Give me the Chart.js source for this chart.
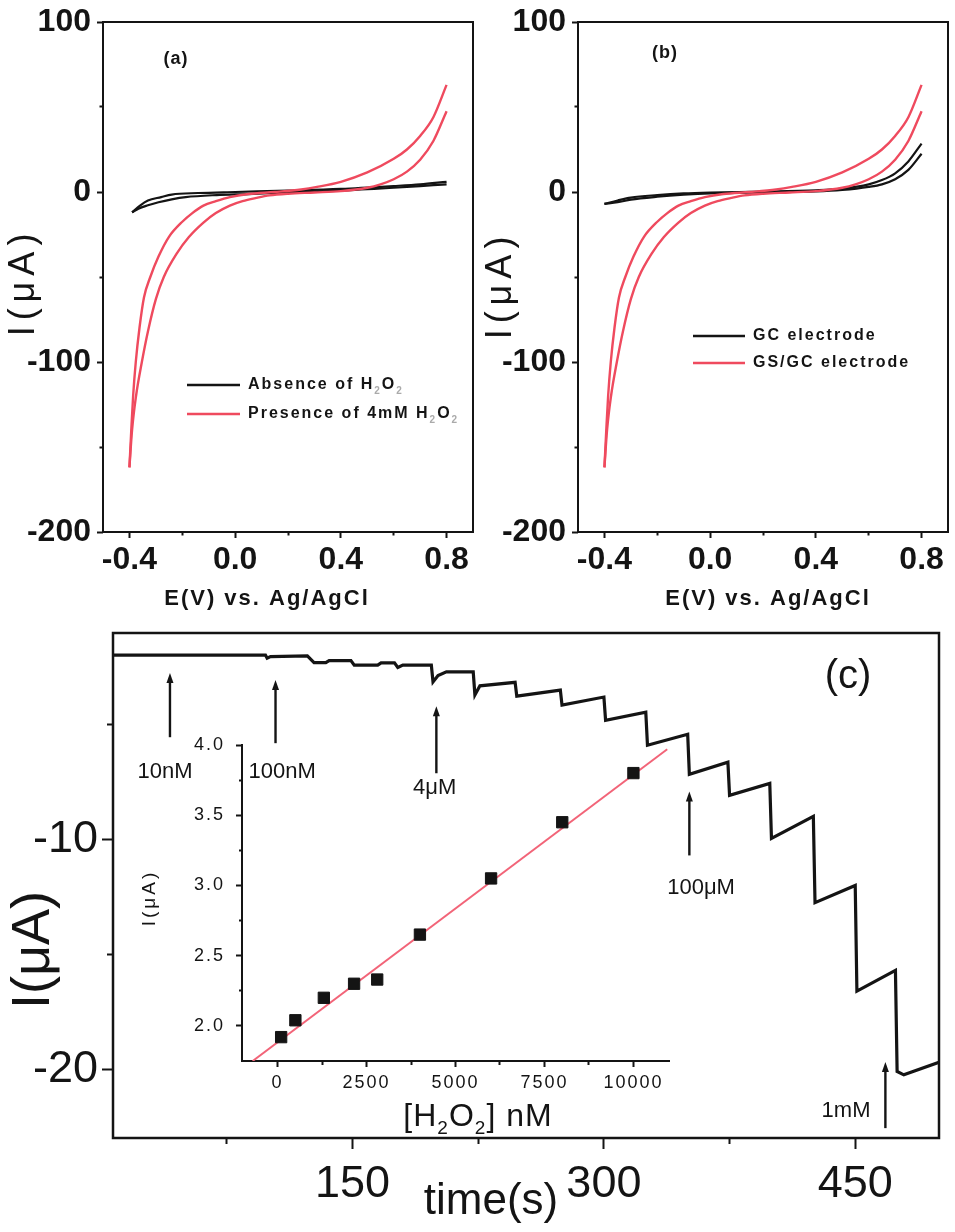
<!DOCTYPE html>
<html>
<head>
<meta charset="utf-8">
<script src="https://cdn.jsdelivr.net/npm/chart.js@4.4.0/dist/chart.umd.min.js"></script>
<style>
body { margin: 0; background: #fff; }
#fig { position: relative; width: 955px; height: 1232px; overflow: hidden; background: #fff; }
canvas { position: absolute; }
</style>
</head>
<body>
<div id="fig">
  <canvas id="cvA" width="480" height="620" style="left:0;top:0"></canvas>
  <canvas id="cvB" width="480" height="620" style="left:475px;top:0"></canvas>
  <canvas id="amp" width="955" height="622" style="left:0;top:610px"></canvas>
  <canvas id="inset" width="570" height="460" style="left:120px;top:700px"></canvas>
</div>
<script>
"use strict";

// ---- (a), (b) cyclic voltammograms ----
var cvTicks = [-0.4, -0.2, 0, 0.2, 0.4, 0.6, 0.8];
var cvTickLabels = ['-0.4', '', '0.0', '', '0.4', '', '0.8'];
var cvCurrentTicks = [-200, -150, -100, -50, 0, 50, 100];
var cvCurrentLabels = ['-200', '', '-100', '', '0', '', '100'];

// red loop (same in a and b)
var redUpperV = [-0.4, -0.393, -0.386, -0.376, -0.362, -0.345, -0.321, -0.29, -0.251, -0.2, -0.162, -0.12, -0.073, -0.02, 0.05, 0.15, 0.25, 0.31, 0.4, 0.5, 0.6, 0.65, 0.7, 0.75, 0.8];
var redUpperI = [-162, -140, -120, -100, -80, -62, -50, -38, -26.5, -17.5, -12.4, -8, -5.4, -3, -1.2, 0, 1.5, 3, 6, 11.5, 19.5, 25, 33, 44, 63];
var redLowerV = [-0.4, -0.39, -0.375, -0.353, -0.33, -0.3, -0.27, -0.22, -0.175, -0.12, -0.073, -0.02, 0.028, 0.08, 0.13, 0.2, 0.3, 0.4, 0.5, 0.55, 0.6, 0.65, 0.7, 0.75, 0.8];
var redLowerI = [-162, -140, -120, -100, -82, -63, -50, -36, -26.5, -18, -12.4, -8, -5.4, -3.5, -2, -1, -0.3, 0.5, 2.5, 4.5, 7.5, 12, 19, 30, 47.5];

// black loop in (a): absence of H2O2
var blackAUpperV = [-0.39, -0.36, -0.33, -0.28, -0.24, -0.14, 0, 0.2, 0.4, 0.6, 0.7, 0.8];
var blackAUpperI = [-12, -8, -5, -3, -1.5, -0.6, 0, 0.8, 1.8, 3.5, 4.5, 6];
var blackALowerV = [-0.39, -0.366, -0.33, -0.29, -0.24, -0.187, -0.07, 0.05, 0.2, 0.4, 0.6, 0.7, 0.8];
var blackALowerI = [-12, -9.8, -7.8, -6, -4.3, -3, -1.8, -1.2, -0.2, 0.8, 2.5, 3.5, 4.5];

// black loop in (b): bare GC electrode
var blackBV = [-0.4, -0.35, -0.3, -0.2, -0.1, 0, 0.2, 0.4, 0.5, 0.6, 0.65, 0.7, 0.75, 0.8];
var blackBUpperI = [-7, -5, -3.3, -1.8, -0.8, -0.3, 0.2, 1, 2, 4.5, 7, 11, 18, 28.5];
var blackBLowerI = [-7, -6, -4.5, -2.8, -1.6, -0.8, -0.2, 0.3, 1.2, 3, 4.5, 7.5, 13, 22.5];

// ---- (c) amperometric response ----
var timeC = [7, 98, 99, 101, 123, 127, 134, 136, 149, 151, 165, 167, 175, 177, 180, 197, 198, 201, 206, 222,
             223, 226, 247, 248, 274, 275, 300, 301, 325, 326, 350, 351, 374, 375, 399, 400, 425, 426, 450, 451,
             474, 475, 479, 500];
var currentC = [-1.96, -1.96, -2.1, -2.03, -2.0, -2.29, -2.29, -2.2, -2.2, -2.4, -2.4, -2.3, -2.3, -2.5, -2.4, -2.4, -3.13, -2.85, -2.69, -2.69,
                -3.7, -3.3, -3.15, -3.75, -3.49, -4.14, -3.79, -4.8, -4.45, -5.89, -5.41, -7.16, -6.63, -8.07, -7.55, -9.95, -8.99, -12.75, -12.0, -16.6,
                -15.7, -20.1, -20.25, -19.7];
var cTimeTicks = [75, 150, 225, 300, 375, 450];
var cTimeLabels = ['', '150', '', '300', '', '450'];
var cCurrentTicks = [-20, -15, -10, -5];
var cCurrentLabels = ['-20', '', '-10', ''];

// ---- inset calibration ----
var concNM = [100, 500, 1300, 2150, 2800, 4000, 6000, 8000, 10000];
var insetCurrent = [1.92, 2.04, 2.2, 2.3, 2.33, 2.65, 3.05, 3.45, 3.8];
var fitX = [-700, 10950];
var fitY = [1.75, 3.97];
var insetXTicks = [0, 1250, 2500, 3750, 5000, 6250, 7500, 8750, 10000];
var insetXLabels = ['0', '', '2500', '', '5000', '', '7500', '', '10000'];
var insetYTicks = [2.0, 2.25, 2.5, 2.75, 3.0, 3.25, 3.5, 3.75, 4.0];
var insetYLabels = ['2.0', '', '2.5', '', '3.0', '', '3.5', '', '4.0'];

var INK = '#141414';
var RED = '#ef4a5e';
var FIT = '#f26478';
var SANS = '"Liberation Sans", Arial, sans-serif';

function pts(xs, ys) {
    return xs.map(function (x, i) { return { x: x, y: ys[i] }; });
}

function drawRich(ctx, t) {
    var parts = typeof t.s === 'string' ? [[t.s, 0]] : t.s;
    var w8 = t.weight || 'normal';
    var big = w8 + ' ' + t.size + 'px ' + SANS;
    var small = w8 + ' ' + Math.round(t.size * 0.6) + 'px ' + SANS;
    ctx.save();
    ctx.letterSpacing = t.spacing || '0px';
    ctx.translate(t.x, t.y);
    if (t.rot) ctx.rotate(t.rot);
    var w = 0;
    parts.forEach(function (p) { ctx.font = p[1] ? small : big; w += ctx.measureText(p[0]).width; });
    var cx = t.align === 'left' ? 0 : -w / 2;
    ctx.textBaseline = 'middle';
    ctx.textAlign = 'left';
    parts.forEach(function (p) {
        ctx.font = p[1] ? small : big;
        ctx.fillStyle = (p[1] && t.subColor) ? t.subColor : (t.color || INK);
        ctx.fillText(p[0], cx, p[1] ? t.size * 0.38 : 0);
        cx += ctx.measureText(p[0]).width;
    });
    ctx.restore();
}

var decor = {
    id: 'decor',
    beforeDraw: function (chart, args, o) {
        chart.ctx.letterSpacing = o.tickSpacing || '0px';
    },
    afterDraw: function (chart, args, o) {
        var ctx = chart.ctx, ca = chart.chartArea;
        ctx.save();
        ctx.letterSpacing = '0px';
        if (o.frame) {
            ctx.lineWidth = o.frame;
            ctx.strokeStyle = INK;
            ctx.strokeRect(ca.left, ca.top, ca.right - ca.left, ca.bottom - ca.top);
        }
        (o.keys || []).forEach(function (k) {
            ctx.beginPath();
            ctx.lineWidth = 2.4;
            ctx.strokeStyle = k.color;
            ctx.moveTo(k.x1, k.y);
            ctx.lineTo(k.x2, k.y);
            ctx.stroke();
            drawRich(ctx, { s: k.s, x: k.x2 + 8, y: k.y, size: 16, weight: 'bold', spacing: '2px', align: 'left', subColor: '#aaa' });
        });
        var xs = chart.scales.x, ys = chart.scales.y;
        (o.notes || []).forEach(function (n) {
            var x = xs.getPixelForValue(n.t);
            var y1 = ys.getPixelForValue(n.top), y2 = ys.getPixelForValue(n.bottom);
            ctx.beginPath();
            ctx.lineWidth = 2.4;
            ctx.strokeStyle = INK;
            ctx.moveTo(x, y1 + 4);
            ctx.lineTo(x, y2);
            ctx.stroke();
            ctx.beginPath();
            ctx.fillStyle = INK;
            ctx.moveTo(x, y1 - 2);
            ctx.lineTo(x - 3.5, y1 + 8);
            ctx.lineTo(x + 3.5, y1 + 8);
            ctx.closePath();
            ctx.fill();
            drawRich(ctx, { s: n.label, x: xs.getPixelForValue(n.lt), y: ys.getPixelForValue(n.lv), size: 22 });
        });
        (o.texts || []).forEach(function (t) { drawRich(ctx, t); });
        ctx.restore();
    }
};

function axis(o) {
    var horiz = o.pos === 'bottom';
    return {
        type: 'linear',
        position: o.pos,
        min: o.min,
        max: o.max,
        afterBuildTicks: function (s) { s.ticks = o.ticks.map(function (v) { return { value: v }; }); },
        afterFit: function (s) {
            if (horiz) s.height = o.size; else s.width = o.size;
            s.paddingLeft = 0; s.paddingRight = 0; s.paddingTop = 0; s.paddingBottom = 0;
        },
        border: { display: !!o.border, width: 2, color: INK },
        grid: {
            drawOnChartArea: false,
            tickLength: o.tl,
            tickWidth: o.tw || 2,
            tickColor: INK,
            tickBorderDash: function (c) {
                if (o.labels[c.index] !== '') return [];
                return horiz ? [o.minor, 99] : [0, o.tl - o.minor, o.minor, 99];
            }
        },
        ticks: {
            autoSkip: false,
            maxRotation: 0,
            padding: o.pad,
            color: INK,
            font: o.font,
            callback: function (v, i) { return o.labels[i]; }
        }
    };
}

function line(data, color, width) {
    return {
        data: data,
        showLine: true,
        borderColor: color,
        backgroundColor: color,
        borderWidth: width,
        pointRadius: 0,
        fill: false,
        cubicInterpolationMode: 'monotone'
    };
}

function cvChart(id, blackUp, blackLow, texts, keys) {
    var tickFont = { family: SANS, size: 32, weight: 'bold' };
    return new Chart(document.getElementById(id), {
        type: 'scatter',
        data: {
            datasets: [
                line(pts(redUpperV, redUpperI), RED, 2.4),
                line(pts(redLowerV, redLowerI), RED, 2.4),
                line(blackUp, INK, 2.2),
                line(blackLow, INK, 2.2)
            ]
        },
        options: {
            responsive: false,
            animation: false,
            devicePixelRatio: 1,
            layout: { padding: { top: 22, right: 7, left: 0, bottom: 0 } },
            scales: {
                x: axis({ pos: 'bottom', min: -0.5, max: 0.9, ticks: cvTicks, labels: cvTickLabels, size: 88, tl: 6, minor: 3.5, pad: 3, font: tickFont }),
                y: axis({ pos: 'left', min: -200, max: 100, ticks: cvCurrentTicks, labels: cvCurrentLabels, size: 103, tl: 6, minor: 3.5, pad: 6, font: tickFont })
            },
            plugins: {
                legend: { display: false },
                tooltip: { enabled: false },
                decor: { frame: 2, texts: texts, keys: keys }
            }
        },
        plugins: [decor]
    });
}

cvChart('cvA', pts(blackAUpperV, blackAUpperI), pts(blackALowerV, blackALowerI), [
    { s: 'I(\u03bcA)', x: 24, y: 282, size: 36, rot: -Math.PI / 2, spacing: '6px' },
    { s: 'E(V) vs. Ag/AgCl', x: 267, y: 599, size: 22, weight: 'bold', spacing: '2px' },
    { s: '(a)', x: 176, y: 59, size: 18, weight: 'bold', spacing: '1px' }
], [
    { x1: 187, x2: 240, y: 385, color: INK, s: [['Absence of H', 0], ['2', 1], ['O', 0], ['2', 1]] },
    { x1: 187, x2: 240, y: 414, color: RED, s: [['Presence of 4mM H', 0], ['2', 1], ['O', 0], ['2', 1]] }
]);

cvChart('cvB', pts(blackBV, blackBUpperI), pts(blackBV, blackBLowerI), [
    { s: 'I(\u03bcA)', x: 26, y: 285, size: 36, rot: -Math.PI / 2, spacing: '6px' },
    { s: 'E(V) vs. Ag/AgCl', x: 293, y: 599, size: 22, weight: 'bold', spacing: '2px' },
    { s: '(b)', x: 190, y: 53, size: 18, weight: 'bold', spacing: '1px' }
], [
    { x1: 218, x2: 270, y: 336, color: INK, s: 'GC electrode' },
    { x1: 218, x2: 270, y: 363, color: RED, s: 'GS/GC electrode' }
]);

// (c) main trace
var cFont = { family: SANS, size: 45 };
new Chart(document.getElementById('amp'), {
    type: 'scatter',
    data: {
        datasets: [{
            data: pts(timeC, currentC),
            showLine: true,
            borderColor: INK,
            borderWidth: 3.2,
            pointRadius: 0,
            tension: 0,
            fill: false
        }]
    },
    options: {
        responsive: false,
        animation: false,
        devicePixelRatio: 1,
        layout: { padding: { top: 23, right: 16, left: 0, bottom: 0 } },
        scales: {
            x: axis({ pos: 'bottom', min: 7, max: 500, ticks: cTimeTicks, labels: cTimeLabels, size: 94, tl: 11, minor: 6, pad: 9, font: cFont }),
            y: axis({ pos: 'left', min: -23, max: -1, ticks: cCurrentTicks, labels: cCurrentLabels, size: 113, tl: 11, minor: 6, pad: 4, font: cFont })
        },
        plugins: {
            legend: { display: false },
            tooltip: { enabled: false },
            decor: {
                frame: 2.5,
                texts: [
                    { s: 'I(\u03bcA)', x: 34, y: 340, size: 54, rot: -Math.PI / 2 },
                    { s: 'time(s)', x: 491, y: 592, size: 44 },
                    { s: '(c)', x: 848, y: 67, size: 40 }
                ],
                notes: [
                    { t: 41, top: -2.83, bottom: -5.54, label: '10nM', lt: 38, lv: -7.07 },
                    { t: 104, top: -3.14, bottom: -5.8, label: '100nM', lt: 108, lv: -7.07 },
                    { t: 200, top: -4.28, bottom: -7.11, label: '4\u03bcM', lt: 199, lv: -7.77 },
                    { t: 351, top: -7.99, bottom: -10.69, label: '100\u03bcM', lt: 358, lv: -12.1 },
                    { t: 468, top: -19.78, bottom: -22.57, label: '1mM', lt: 444.5, lv: -21.83 }
                ]
            }
        }
    },
    plugins: [decor]
});

// inset calibration plot
var inFont = { family: SANS, size: 18 };
new Chart(document.getElementById('inset'), {
    type: 'scatter',
    data: {
        datasets: [{
            data: pts(concNM, insetCurrent),
            pointStyle: 'rect',
            pointRadius: 8,
            borderWidth: 1,
            borderColor: INK,
            backgroundColor: INK
        }, {
            data: pts(fitX, fitY),
            showLine: true,
            borderColor: FIT,
            borderWidth: 2,
            pointRadius: 0,
            fill: false
        }]
    },
    options: {
        responsive: false,
        animation: false,
        devicePixelRatio: 1,
        layout: { padding: { top: 45, right: 21, left: 0, bottom: 0 } },
        scales: {
            x: axis({ pos: 'bottom', min: -1000, max: 11000, ticks: insetXTicks, labels: insetXLabels, size: 99, tl: 6, minor: 3, pad: 5, font: inFont, border: true }),
            y: axis({ pos: 'left', min: 1.75, max: 4.0, ticks: insetYTicks, labels: insetYLabels, size: 122, tl: 6, minor: 3, pad: 11, font: inFont, border: true })
        },
        plugins: {
            legend: { display: false },
            tooltip: { enabled: false },
            decor: {
                tickSpacing: '2px',
                texts: [
                    { s: 'I(\u03bcA)', x: 30, y: 198, size: 19, rot: -Math.PI / 2, spacing: '3px' },
                    { s: [['[H', 0], ['2', 1], ['O', 0], ['2', 1], ['] nM', 0]], x: 358, y: 417, size: 32, spacing: '1px' }
                ]
            }
        }
    },
    plugins: [decor]
});
</script>
</body>
</html>
